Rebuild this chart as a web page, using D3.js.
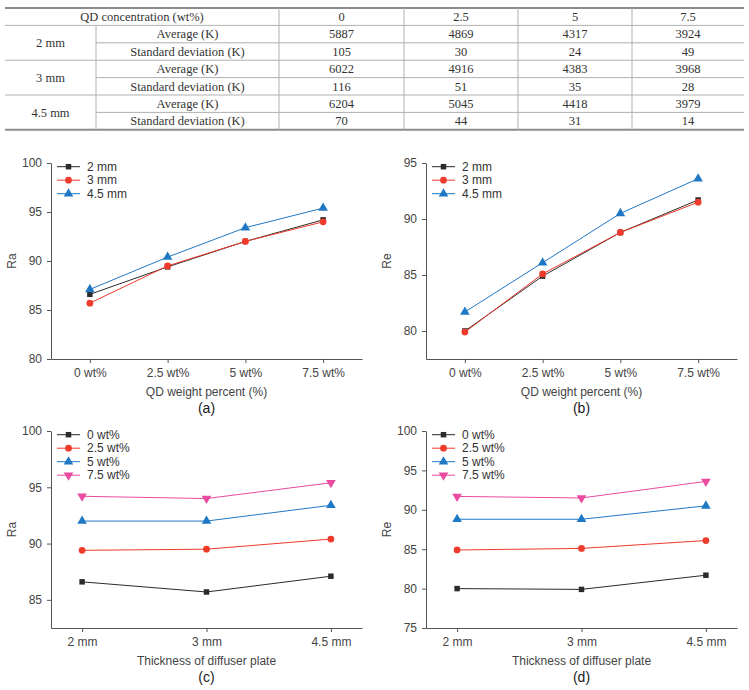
<!DOCTYPE html>
<html>
<head>
<meta charset="utf-8">
<script src="https://cdn.jsdelivr.net/npm/d3@7"></script>
<style>
body { margin: 0; background: #fff; }
.tbl text { font-family: "Liberation Serif", "Times New Roman", serif; font-size: 12.5px; fill: #333; }
.chart text { font-family: "Liberation Sans", Arial, sans-serif; font-size: 12px; fill: #444; }
.chart .domain, .chart .tick line { stroke: #555; }
</style>
</head>
<body>
<div id="figure"></div>
<script>
// Table data
var concentrations = ["0", "2.5", "5", "7.5"];
var thicknesses = ["2 mm", "3 mm", "4.5 mm"];
var averageK = [
  [5887, 4869, 4317, 3924],
  [6022, 4916, 4383, 3968],
  [6204, 5045, 4418, 3979]
];
var stdDevK = [
  [105, 30, 24, 49],
  [116, 51, 35, 28],
  [70, 44, 31, 14]
];

// Chart data (rows = thickness, cols = QD wt%)
var wtLabels = ["0 wt%", "2.5 wt%", "5 wt%", "7.5 wt%"];
var raValues = [
  [86.6, 89.4, 92.0, 94.2],
  [85.7, 89.5, 92.0, 94.0],
  [87.1, 90.4, 93.4, 95.4]
];
var reValues = [
  [80.0, 84.9, 88.8, 91.7],
  [79.9, 85.1, 88.8, 91.5],
  [81.7, 86.1, 90.5, 93.6]
];
var raTicksA = [80, 85, 90, 95, 100];
var reTicksB = [80, 85, 90, 95];
var raTicksC = [85, 90, 95, 100];
var reTicksD = [75, 80, 85, 90, 95, 100];

var colors = ["#2b2b2b", "#ef3b2c", "#1f78c4", "#ea4aa0"];
var symbols = [d3.symbolSquare, d3.symbolCircle, d3.symbolTriangle, d3.symbolTriangle];
var symbolSizes = [30, 36, 40, 40];
var symbolRotate = [0, 0, 0, 180];

var svg = d3.select("#figure").append("svg")
    .attr("width", 749)
    .attr("height", 690);

svg.append("rect").attr("width", 749).attr("height", 690).attr("fill", "#fff");

// ---------- Table ----------
var colX = [5, 96, 279, 404, 518, 632, 744];
var tTop = 8, rowH = 17.4;
var tbl = svg.append("g").attr("class", "tbl");
var tBottom = tTop + rowH * 7;

function hline(x1, x2, yy, w) {
  tbl.append("line").attr("x1", x1).attr("x2", x2).attr("y1", yy).attr("y2", yy)
    .attr("stroke", w > 1 ? "#8c8c8c" : "#b0b0b0").attr("stroke-width", w);
}
function vline(xx, y1, y2) {
  tbl.append("line").attr("x1", xx).attr("x2", xx).attr("y1", y1).attr("y2", y2)
    .attr("stroke", "#b0b0b0").attr("stroke-width", 1);
}
function cell(txt, x1, x2, yc) {
  tbl.append("text").attr("x", (x1 + x2) / 2).attr("y", yc).attr("dy", "0.35em")
    .attr("text-anchor", "middle").text(txt);
}

hline(colX[0], colX[6], tTop, 2);
hline(colX[0], colX[6], tBottom, 2);
hline(colX[0], colX[6], tTop + rowH, 1);
thicknesses.forEach(function(t, i) {
  var r0 = tTop + rowH * (1 + i * 2);
  if (i > 0) hline(colX[0], colX[6], r0, 1);
  hline(colX[1], colX[6], r0 + rowH, 1);
});
vline(colX[1], tTop + rowH, tBottom);
for (var c = 2; c <= 5; c++) vline(colX[c], tTop, tBottom);

cell("QD concentration (wt%)", colX[0], colX[2], tTop + rowH / 2);
concentrations.forEach(function(q, j) {
  cell(q, colX[j + 2], colX[j + 3], tTop + rowH / 2);
});
thicknesses.forEach(function(t, i) {
  var r0 = tTop + rowH * (1 + i * 2);
  cell(t, colX[0], colX[1], r0 + rowH);
  cell("Average (K)", colX[1], colX[2], r0 + rowH / 2);
  cell("Standard deviation (K)", colX[1], colX[2], r0 + rowH * 1.5);
  averageK[i].forEach(function(v, j) { cell(v, colX[j + 2], colX[j + 3], r0 + rowH / 2); });
  stdDevK[i].forEach(function(v, j) { cell(v, colX[j + 2], colX[j + 3], r0 + rowH * 1.5); });
});

// ---------- Charts ----------
function drawChart(cfg) {
  var g = svg.append("g").attr("class", "chart");

  var x = d3.scalePoint()
      .domain(cfg.categories)
      .range([cfg.left, cfg.right])
      .padding(cfg.padding);
  var y = d3.scaleLinear()
      .domain(cfg.yDomain)
      .range([cfg.bottom, cfg.top]);

  // x axis
  g.append("g")
      .attr("transform", "translate(0," + cfg.bottom + ")")
      .call(d3.axisBottom(x).tickSize(4).tickSizeOuter(0).tickPadding(5));

  // y axis
  g.append("g")
      .attr("transform", "translate(" + cfg.left + ",0)")
      .call(d3.axisLeft(y).tickValues(cfg.yTicks).tickSize(4).tickSizeOuter(0).tickPadding(5));

  // axis titles
  g.append("text")
      .attr("transform", "translate(" + (cfg.left - 39) + "," + ((cfg.top + cfg.bottom) / 2) + ") rotate(-90)")
      .attr("text-anchor", "middle")
      .attr("dy", "0.35em")
      .text(cfg.yLabel);
  g.append("text")
      .attr("x", (cfg.left + cfg.right) / 2)
      .attr("y", cfg.bottom + 37)
      .attr("text-anchor", "middle")
      .text(cfg.xLabel);
  g.append("text")
      .attr("x", (cfg.left + cfg.right) / 2)
      .attr("y", cfg.bottom + 54)
      .attr("text-anchor", "middle")
      .style("font-size", "14px")
      .style("fill", "#1a1a1a")
      .text(cfg.panel);

  var line = d3.line()
      .x(function(d) { return x(d.cat); })
      .y(function(d) { return y(d.val); });

  cfg.series.forEach(function(s, k) {
    var pts = cfg.categories.map(function(cat, j) { return {cat: cat, val: s.values[j]}; });
    g.append("path")
        .datum(pts)
        .attr("fill", "none")
        .attr("stroke", colors[k])
        .attr("stroke-width", 1)
        .attr("d", line);
    g.selectAll(".pt" + k)
        .data(pts)
        .enter().append("path")
        .attr("class", "pt" + k)
        .attr("fill", colors[k])
        .attr("d", d3.symbol().type(symbols[k]).size(symbolSizes[k]))
        .attr("transform", function(d) {
          return "translate(" + x(d.cat) + "," + y(d.val) + ") rotate(" + symbolRotate[k] + ")";
        });
  });

  // legend
  cfg.series.forEach(function(s, k) {
    var ly = cfg.top + 3.7 + k * 13.5;
    var lx = cfg.left + 6;
    g.append("line")
        .attr("x1", lx).attr("x2", lx + 23)
        .attr("y1", ly).attr("y2", ly)
        .attr("stroke", colors[k]).attr("stroke-width", 1);
    g.append("path")
        .attr("fill", colors[k])
        .attr("d", d3.symbol().type(symbols[k]).size(symbolSizes[k]))
        .attr("transform", "translate(" + (lx + 11.5) + "," + ly + ") rotate(" + symbolRotate[k] + ")");
    g.append("text")
        .attr("x", lx + 30)
        .attr("y", ly)
        .attr("dy", "0.35em")
        .style("fill", "#333")
        .text(s.name);
  });
}

function byThickness(vals) {
  return thicknesses.map(function(t, i) { return {name: t, values: vals[i]}; });
}
function byConcentration(vals) {
  return wtLabels.map(function(w, j) {
    return {name: w, values: thicknesses.map(function(t, i) { return vals[i][j]; })};
  });
}

drawChart({
  left: 51, right: 362, top: 163, bottom: 359,
  categories: wtLabels, padding: 0.5,
  yDomain: [80, 100], yTicks: raTicksA,
  yLabel: "Ra", xLabel: "QD weight percent (%)", panel: "(a)",
  series: byThickness(raValues)
});
drawChart({
  left: 426, right: 737, top: 163, bottom: 359,
  categories: wtLabels, padding: 0.5,
  yDomain: [77.5, 95], yTicks: reTicksB,
  yLabel: "Re", xLabel: "QD weight percent (%)", panel: "(b)",
  series: byThickness(reValues)
});
drawChart({
  left: 51, right: 362, top: 431, bottom: 628,
  categories: thicknesses, padding: 0.25,
  yDomain: [82.5, 100], yTicks: raTicksC,
  yLabel: "Ra", xLabel: "Thickness of diffuser plate", panel: "(c)",
  series: byConcentration(raValues)
});
drawChart({
  left: 426, right: 737, top: 431, bottom: 628,
  categories: thicknesses, padding: 0.25,
  yDomain: [75, 100], yTicks: reTicksD,
  yLabel: "Re", xLabel: "Thickness of diffuser plate", panel: "(d)",
  series: byConcentration(reValues)
});
</script>
</body>
</html>
